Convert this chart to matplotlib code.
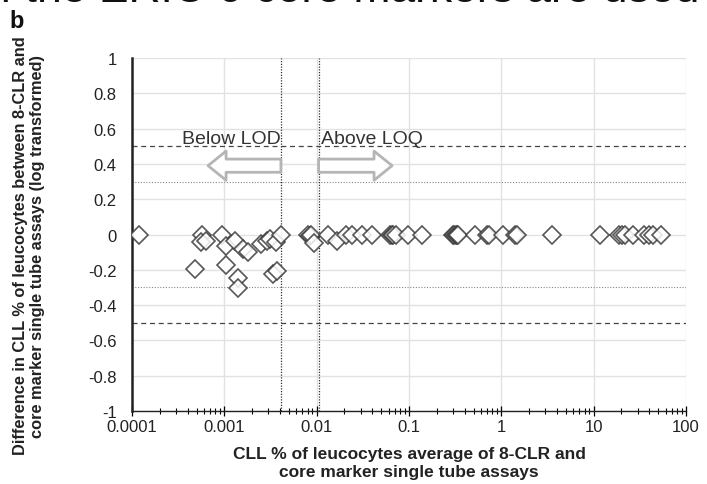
import matplotlib
matplotlib.use("Agg")
import matplotlib.pyplot as plt

plt.rcParams["font.family"] = ["Liberation Sans", "DejaVu Sans"]

# ── data ──────────────────────────────────────────────────────────────────────
avg_pct = [0.00012, 0.00048, 0.00057, 0.00056, 0.00063, 0.00094, 0.00105, 0.00104,
           0.0013, 0.00142, 0.00142, 0.00158, 0.00179, 0.0025, 0.0029, 0.0031,
           0.0036, 0.0034, 0.0037, 0.0041, 0.0081, 0.0084, 0.0086, 0.0093,
           0.0134, 0.0165, 0.021, 0.024, 0.0307, 0.0394, 0.062, 0.065, 0.0675,
           0.073, 0.098, 0.138, 0.30, 0.31, 0.32, 0.33, 0.34, 0.52, 0.70, 0.73,
           1.05, 1.4, 1.47, 3.5, 11.7, 18.6, 20.5, 22, 27, 35, 40, 43.5, 53]
diff_log = [0, -0.195, 0, -0.045, -0.035, 0, -0.063, -0.173,
            -0.035, -0.246, -0.305, -0.082, -0.10, -0.054, -0.035, -0.025,
            -0.04, -0.224, -0.205, 0, -0.005, -0.01, 0, -0.048,
            0, -0.035, 0, 0, 0, 0, 0, 0, 0,
            0, 0, 0, 0, 0, 0, 0, 0, 0, 0, 0,
            0, 0, 0, 0, 0, 0, 0, 0, 0, 0, 0, 0, 0]

LOD = 0.0041
LOQ = 0.0105
limits_dashed = [0.5, -0.5]
limits_dotted = [0.3, -0.3]
x_ticks = [0.0001, 0.001, 0.01, 0.1, 1, 10, 100]
x_ticklabels = ["0.0001", "0.001", "0.01", "0.1", "1", "10", "100"]
y_ticks = [1, 0.8, 0.6, 0.4, 0.2, 0, -0.2, -0.4, -0.6, -0.8, -1]
y_ticklabels = ["1", "0.8", "0.6", "0.4", "0.2", "0", "-0.2", "-0.4", "-0.6", "-0.8", "-1"]

# ── figure ───────────────────────────────────────────────────────────────────
fig = plt.figure(figsize=(7.07, 4.85), dpi=100)
ax = fig.add_axes([0.1867, 0.1505, 0.7836, 0.7278])

ax.set_xscale("log")
ax.set_xlim(0.0001, 100)
ax.set_ylim(-1, 1)

# grid
for xt in x_ticks:
    ax.axvline(xt, color="#e2e2e2", lw=1.0, zorder=0)
for yt in y_ticks:
    ax.axhline(yt, color="#e2e2e2", lw=1.0, zorder=0)

# reference lines
for y in limits_dashed:
    ax.axhline(y, color="#444444", lw=0.9, ls=(0, (4, 3)), zorder=1)
for y in limits_dotted:
    ax.axhline(y, color="#888888", lw=0.8, ls=(0, (1, 1.5)), zorder=1)
ax.axvline(LOD, color="#333333", lw=0.9, ls=(0, (1, 1.2)), zorder=1)
ax.axvline(LOQ, color="#333333", lw=0.9, ls=(0, (1, 1.2)), zorder=1)

# hollow block arrows
arrow_style = "simple,head_length=1.3,head_width=2.1,tail_width=0.95"
ax.annotate("", xy=(0.000666, 0.39), xytext=(LOD, 0.39),
            arrowprops=dict(arrowstyle=arrow_style, fc="white", ec="#b5b5b5",
                            lw=2, shrinkA=0, shrinkB=0, mutation_scale=10), zorder=2)
ax.annotate("", xy=(0.0656, 0.39), xytext=(LOQ, 0.39),
            arrowprops=dict(arrowstyle=arrow_style, fc="white", ec="#b5b5b5",
                            lw=2, shrinkA=0, shrinkB=0, mutation_scale=10), zorder=2)
ax.text(0.00118, 0.545, "Below LOD", ha="center", va="center", fontsize=14, color="#333333")
ax.text(0.0398, 0.545, "Above LOQ", ha="center", va="center", fontsize=14, color="#333333")

# points
ax.plot(avg_pct, diff_log, ls="none", marker="D", ms=9, mfc="white", mec="#3a3a3a",
        mew=1.2, alpha=0.85, zorder=3)

# axes styling
for s in ["top", "right"]:
    ax.spines[s].set_visible(False)
ax.spines["left"].set_linewidth(1.8)
ax.spines["left"].set_color("#222222")
ax.spines["bottom"].set_linewidth(1.0)
ax.spines["bottom"].set_color("#222222")
ax.set_xticks(x_ticks)
ax.set_xticklabels(x_ticklabels, fontsize=12, color="#222222")
ax.set_yticks(y_ticks)
ax.set_yticklabels(y_ticklabels, fontsize=12, color="#222222")
ax.tick_params(axis="x", which="major", direction="inout", length=7, width=0.9, pad=2)
ax.tick_params(axis="x", which="minor", direction="inout", length=5, width=0.8)
ax.tick_params(axis="y", length=0, pad=11)

ax.set_xlabel("CLL % of leucocytes average of 8-CLR and\ncore marker single tube assays",
              fontsize=12.5, fontweight="bold", color="#222222", labelpad=9)
ax.set_ylabel("Difference in CLL % of leucocytes between 8-CLR and\n"
              "core marker single tube assays (log transformed)",
              fontsize=11.8, fontweight="bold", color="#222222", labelpad=31)
ax.yaxis.label.set_y(0.47)

# panel letter and clipped heading above
fig.text(9 / 707, 1 - 28 / 485, "b", fontsize=17, fontweight="bold", color="#111111",
         va="baseline")
fig.text(-10 / 707, 1 - 2 / 485, "if the ERIC 6 core markers are used",
         fontsize=32, color="#111111", va="baseline", ha="left")

fig.savefig("out.png", dpi=100)
